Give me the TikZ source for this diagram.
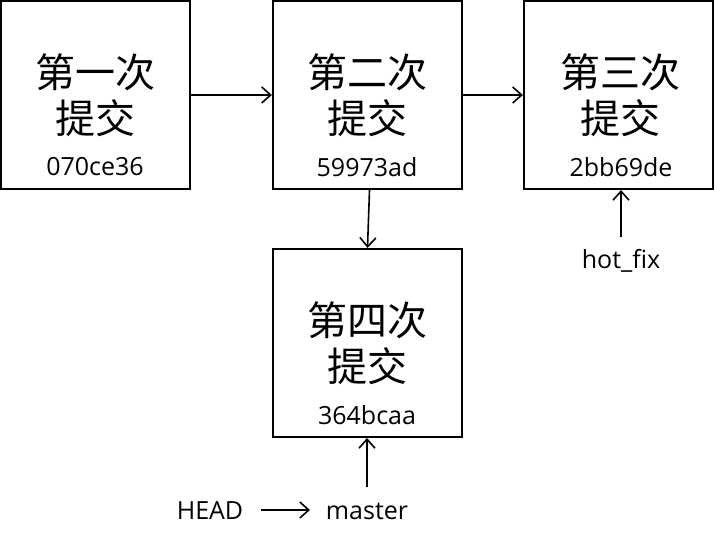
\documentclass[tikz,border=0pt]{standalone}
\usepackage{fontspec}
\setmainfont{Open Sans}
\newfontfamily\cjk{Noto Sans CJK SC}
\usetikzlibrary{arrows.meta}
\begin{document}
\begin{tikzpicture}[x=1pt,y=-1pt,
  commit/.style={draw,line width=2.2pt,minimum width=189pt,minimum height=188pt,inner sep=0pt},
  title/.style={font=\cjk\fontsize{40}{46}\selectfont,align=center,inner sep=0pt},
  hash/.style={font=\fontsize{25}{30}\selectfont,inner sep=0pt},
  lbl/.style={font=\fontsize{25}{30}\selectfont,inner sep=0pt},
  conn/.style={line width=1.6pt,-{Straight Barb[length=9pt,width=16pt,line width=1.6pt]}}]
\useasboundingbox (0,0) rectangle (715,533);
\node[commit] (c1) at (95.5,95) {};
\node[commit] (c2) at (367.5,95) {};
\node[commit] (c3) at (618.5,95) {};
\node[commit] (c4) at (367.5,343) {};
\node[title] (t1) at (95,95) {第一次\\提交};
\node[title] (t2) at (367,95) {第二次\\提交};
\node[title] (t3) at (620,95) {第三次\\提交};
\node[title] (t4) at (367,343) {第四次\\提交};
\node[hash] (h1) at (95,167) {070ce36};
\node[hash] (h2) at (367,167) {59973ad};
\node[hash] (h3) at (621,167) {2bb69de};
\node[hash] (h4) at (367,415) {364bcaa};
\node[lbl] (hot) at (621,261) {hot\_fix};
\node[lbl] (master) at (367,511) {master};
\node[lbl] (head) at (210,511) {HEAD};
\coordinate (hotfrom) at (621,237);
\coordinate (hotto) at (621,190);
\coordinate (mfrom) at (367,487);
\coordinate (mto) at (367,438);
\coordinate (hdfrom) at (261,510);
\coordinate (hdto) at (310,510);
\draw[conn] (c1.east) -- (c2.west);
\draw[conn] (c2.east) -- (c3.west);
\draw[conn] ([xshift=2pt]c2.south) -- (c4.north);
\draw[conn] (hotfrom) -- (hotto);
\draw[conn] (mfrom) -- (mto);
\draw[conn] (hdfrom) -- (hdto);
\end{tikzpicture}
\end{document}
